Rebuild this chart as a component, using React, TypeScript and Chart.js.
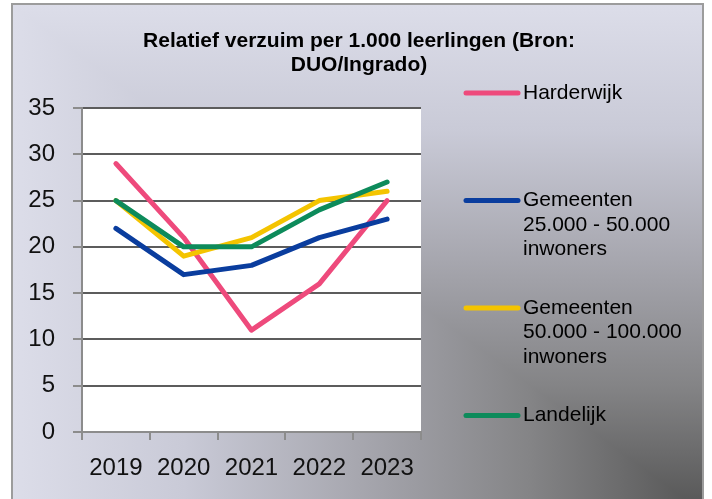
import React, { useEffect, useRef } from "react";
import { Chart, registerables } from "chart.js";

Chart.register(...registerables);

const categories = ["2019", "2020", "2021", "2022", "2023"];
const harderwijk = [29, 21, 11, 16, 25];
const gemeenten25 = [22, 17, 18, 21, 23];
const gemeenten50 = [25, 19, 21, 25, 26];
const landelijk = [25, 20, 20, 24, 27];

const seriesNames = [
  "Harderwijk",
  "Gemeenten 25.000 - 50.000 inwoners",
  "Gemeenten 50.000 - 100.000 inwoners",
  "Landelijk",
];
const legendLines = [
  ["Harderwijk"],
  ["Gemeenten", "25.000 - 50.000", "inwoners"],
  ["Gemeenten", "50.000 - 100.000", "inwoners"],
  ["Landelijk"],
];
const seriesColors = ["#ee4a7c", "#0a3d9e", "#f4c400", "#0d8b5b"];
const titleLines = ["Relatief verzuim per 1.000 leerlingen (Bron:", "DUO/Ingrado)"];

const yMin = 0;
const yMax = 35;
const yStep = 5;

const FONT = "'Liberation Sans', Arial, sans-serif";

const decorPlugin = {
  id: "decor",
  beforeDraw(chart: any) {
    const ctx = chart.ctx as CanvasRenderingContext2D;
    const L = 12, T = 5, R = 703, B = 512;
    ctx.save();
    ctx.fillStyle = "#ffffff";
    ctx.fillRect(0, 0, chart.width, chart.height);
    const stops: [number, string][] = [
      [0, "#dcdde9"],
      [0.25, "#c9cad7"],
      [0.5, "#a7a7af"],
      [0.75, "#848486"],
      [1, "#555555"],
    ];
    // whole area: horizontal gradient
    const gh = ctx.createLinearGradient(L, 0, R, 0);
    stops.forEach(([o, c]) => gh.addColorStop(o, c));
    ctx.fillStyle = gh;
    ctx.fillRect(L, T, R - L, B - T);
    // upper-right triangle: vertical gradient
    ctx.beginPath();
    ctx.moveTo(L, T);
    ctx.lineTo(R, T);
    ctx.lineTo(R, B);
    ctx.closePath();
    const gv = ctx.createLinearGradient(0, T, 0, B);
    stops.forEach(([o, c]) => gv.addColorStop(o, c));
    ctx.fillStyle = gv;
    ctx.fill();
    // border
    ctx.strokeStyle = "#9c9c9c";
    ctx.lineWidth = 2;
    ctx.strokeRect(L, T - 1, R - L, B - T + 10);
    // plot area
    const a = chart.chartArea;
    ctx.fillStyle = "#ffffff";
    ctx.fillRect(a.left, a.top, a.right - a.left, a.bottom - a.top);
    ctx.restore();
  },
  afterDraw(chart: any) {
    const ctx = chart.ctx as CanvasRenderingContext2D;
    ctx.save();
    // title
    ctx.fillStyle = "#000000";
    ctx.font = `bold 21px ${FONT}`;
    ctx.textAlign = "center";
    ctx.textBaseline = "middle";
    titleLines.forEach((t, i) => ctx.fillText(t, 359, 41 + i * 24));
    // legend
    ctx.font = `21px ${FONT}`;
    ctx.textAlign = "left";
    const top = 93;
    const step = 107.5;
    chart.data.datasets.forEach((ds: any, i: number) => {
      const y = top + i * step;
      ctx.strokeStyle = ds.borderColor;
      ctx.lineWidth = 5;
      ctx.lineCap = "round";
      ctx.beginPath();
      ctx.moveTo(466, y);
      ctx.lineTo(518, y);
      ctx.stroke();
      ctx.fillStyle = "#000000";
      legendLines[i].forEach((line, j) => ctx.fillText(line, 523, y + j * 24.5));
    });
    ctx.restore();
  },
};

export default function App() {
  const ref = useRef<HTMLCanvasElement>(null);
  useEffect(() => {
    if (!ref.current) return;
    const series = [harderwijk, gemeenten25, gemeenten50, landelijk];
    const chart = new Chart(ref.current, {
      type: "line",
      data: {
        labels: categories,
        datasets: series.map((d, i) => ({
          label: seriesNames[i],
          data: d,
          borderColor: seriesColors[i],
          backgroundColor: seriesColors[i],
          borderWidth: 5,
          borderCapStyle: "round",
          borderJoinStyle: "round",
          pointRadius: 0,
          tension: 0,
          order: 4 - i,
        })),
      },
      options: {
        responsive: false,
        animation: false,
        layout: { padding: { left: 0, top: 108, right: 291, bottom: 0 } },
        plugins: {
          legend: { display: false },
          title: { display: false },
          tooltip: { enabled: false },
        },
        scales: {
          x: {
            offset: true,
            afterFit: (s: any) => {
              s.height = 67;
            },
            grid: {
              offset: true,
              drawOnChartArea: false,
              drawTicks: true,
              tickLength: 8,
              tickColor: "#8c8c8c",
              lineWidth: 2,
            },
            border: { color: "#8c8c8c", width: 2 },
            ticks: {
              color: "#111111",
              font: { family: FONT, size: 24 },
              padding: 14,
              maxRotation: 0,
            },
          },
          y: {
            min: yMin,
            max: yMax,
            afterFit: (s: any) => {
              s.width = 82;
            },
            ticks: {
              stepSize: yStep,
              color: "#111111",
              font: { family: FONT, size: 24 },
              padding: 18,
            },
            grid: {
              color: (c: any) => (c.tick && c.tick.value === 0 ? "rgba(0,0,0,0)" : "#5c5c5c"),
              tickColor: "#8c8c8c",
              tickLength: 9,
              lineWidth: 2,
            },
            border: { color: "#8c8c8c", width: 2 },
          },
        },
      },
      plugins: [decorPlugin],
    } as any);
    return () => chart.destroy();
  }, []);
  return (
    <canvas
      ref={ref}
      width={712}
      height={499}
      style={{ position: "absolute", left: 0, top: 0, width: 712, height: 499 }}
    />
  );
}
